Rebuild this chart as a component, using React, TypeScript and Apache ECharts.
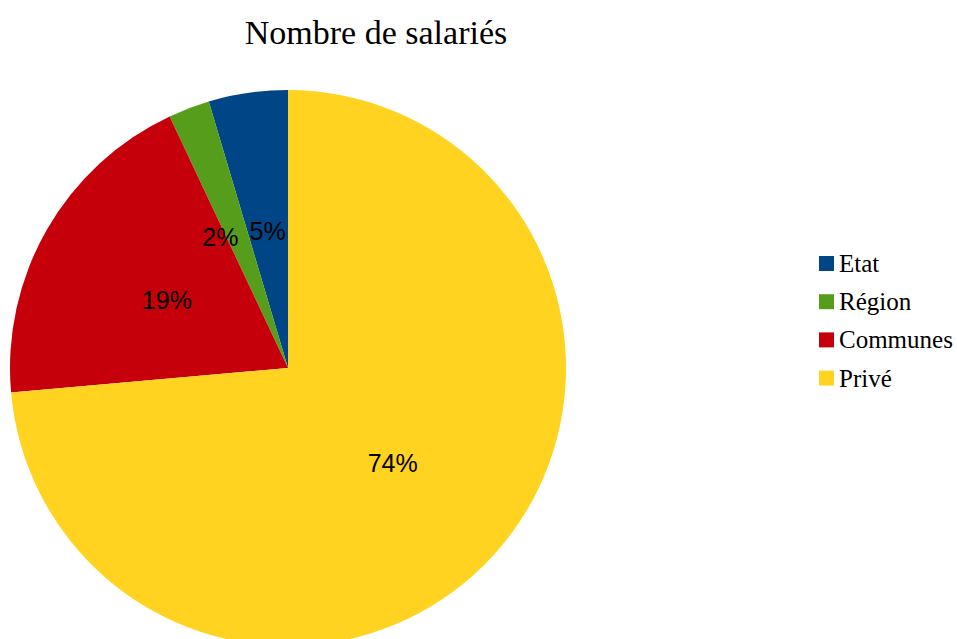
import React, { useEffect, useRef } from "react";
import * as echarts from "echarts";

const categories = ["Etat", "Région", "Communes", "Privé"];
const values = [4.6, 2.4, 19.4, 73.6];
const colors = ["#004586", "#579D1C", "#C5000B", "#FFD320"];
const titleText = "Nombre de salariés";

export default function App() {
  const ref = useRef<HTMLDivElement>(null);
  useEffect(() => {
    document.body.style.margin = "0";
    const chart = echarts.init(ref.current!, null, { renderer: "svg" });
    chart.setOption({
      animation: false,
      backgroundColor: "#ffffff",
      title: {
        text: titleText,
        left: 371,
        top: 10,
        textAlign: "center",
        textStyle: {
          fontFamily: "Liberation Serif",
          fontSize: 34,
          fontWeight: "normal",
          color: "#000000",
        },
      },
      legend: {
        orient: "vertical",
        left: 814,
        top: 246,
        itemWidth: 15,
        itemHeight: 15,
        itemGap: 13.2,
        icon: "rect",
        textStyle: {
          fontFamily: "Liberation Serif",
          fontSize: 25,
          lineHeight: 24,
          color: "#000000",
          padding: [0, 0, 0, 0],
        },
        data: categories,
      },
      series: [
        {
          type: "pie",
          center: [288, 368],
          radius: 278,
          startAngle: 90,
          clockwise: false,
          percentPrecision: 0,
          avoidLabelOverlap: false,
          itemStyle: { borderWidth: 0 },
          emphasis: { disabled: true },
          label: {
            show: true,
            position: "inside",
            formatter: "{d}%",
            fontFamily: "Liberation Sans",
            fontSize: 25,
            color: "#000000",
          },
          labelLine: { show: false },
          data: categories.map((name, i) => ({
            name,
            value: values[i],
            itemStyle: { color: colors[i] },
            label: i === 1 ? { offset: [-17, 2] } : i === 3 ? { offset: [0, -1] } : i === 2 ? { offset: [2, 3] } : { offset: [0, 4] },
          })),
        },
      ],
    });
    return () => chart.dispose();
  }, []);
  return <div ref={ref} style={{ width: 957, height: 639 }} />;
}
